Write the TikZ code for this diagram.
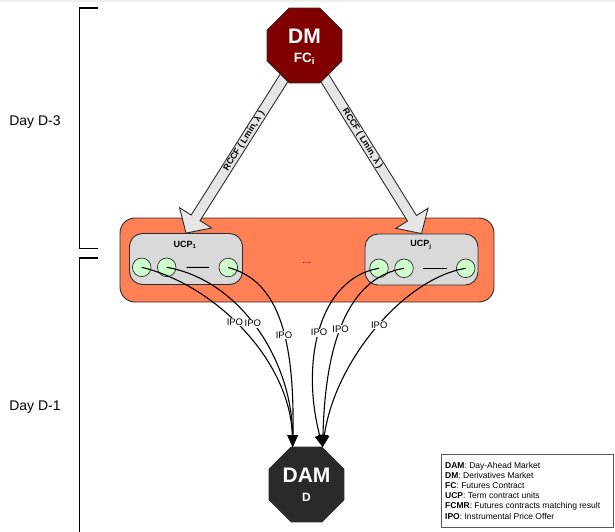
\documentclass[tikz,border=0pt]{standalone}
\usepackage{fontspec}
\setmainfont{Liberation Sans}
\usetikzlibrary{shapes.geometric,calc,arrows.meta}
\definecolor{orangebox}{RGB}{255,128,85}
\definecolor{ucpfill}{RGB}{217,217,217}
\definecolor{dotfill}{RGB}{204,255,204}
\definecolor{dmfill}{RGB}{128,0,0}
\definecolor{damfill}{RGB}{42,42,42}
\definecolor{arrfill}{RGB}{230,230,230}
\definecolor{edgegray}{RGB}{45,45,45}
\definecolor{topstrip}{RGB}{238,238,238}
\newcommand{\myfs}[2]{\fontsize{#1}{#2}\selectfont}
\newcommand{\blockarr}[2]{%
  \coordinate (ab) at ($(#2)!18pt!(#1)$);
  \filldraw[blockarrow] ($(#1)!5.25pt!90:(#2)$) -- ($(ab)!5.25pt!90:(#2)$)
    -- ($(ab)!19pt!90:(#2)$) -- (#2) -- ($(ab)!19pt!-90:(#2)$)
    -- ($(ab)!5.25pt!-90:(#2)$) -- ($(#1)!5.25pt!-90:(#2)$) -- cycle;}
\begin{document}
\begin{tikzpicture}[x=1pt,y=-1pt,
  octa/.style={regular polygon, regular polygon sides=8, minimum size=81pt,
    inner sep=0pt, outer sep=0pt, draw=edgegray, line width=0.8pt},
  octbig/.style={text=white, font=\bfseries\myfs{21}{21}, inner sep=0pt},
  octsmall/.style={text=white, font=\bfseries\myfs{13.5}{13.5}, inner sep=0pt},
  bracket/.style={line width=1.8pt, black},
  daylabel/.style={font=\myfs{14}{14}, inner sep=0pt},
  outerbox/.style={draw=edgegray, line width=0.9pt, fill=orangebox,
    rounded corners=15pt, minimum width=374pt, minimum height=84pt, inner sep=0pt},
  ucpbox/.style={draw=edgegray, line width=0.9pt, fill=ucpfill,
    rounded corners=13pt, minimum width=113pt, minimum height=51pt, inner sep=0pt},
  ucptext/.style={font=\bfseries\myfs{9}{9}, inner sep=0pt},
  dot/.style={circle, draw=edgegray, line width=0.7pt, fill=dotfill,
    minimum size=18.6pt, inner sep=0pt},
  dash line/.style={line width=0.9pt, black},
  blockarrow/.style={draw=edgegray, line width=0.9pt, fill=arrfill, line join=miter},
  arrtext/.style={font=\bfseries\myfs{8.8}{8.8}, inner sep=0pt},
  ipo/.style={line width=1.1pt, black, -{Triangle[length=12pt,width=10pt]}},
  ipolabel/.style={font=\myfs{9.5}{9.5}, fill=white, inner sep=0.6pt},
  legendbox/.style={draw=edgegray!80, line width=1pt, minimum width=172pt,
    minimum height=73pt, inner sep=0pt},
  legendtext/.style={font=\myfs{8.5}{10.2}, align=left, inner sep=0pt}]
\useasboundingbox (0,0) rectangle (615,531);
\fill[topstrip] (0,0) rectangle (615,2.4);

% brackets
\coordinate (b1a) at (98,8.3);
\coordinate (b1b) at (79.5,8.3);
\coordinate (b1c) at (79.5,248.5);
\coordinate (b1d) at (98,248.5);
\draw[bracket] (b1a) -- (b1b) -- (b1c) -- (b1d);
\coordinate (b2a) at (98,258.3);
\coordinate (b2b) at (79.5,258.3);
\coordinate (b2c) at (79.5,536);
\draw[bracket] (b2a) -- (b2b) -- (b2c);
\node[daylabel] (d3) at (35,122.3) {Day D-3};
\node[daylabel] (d1) at (35,407.3) {Day D-1};

% FCMR box with UCPs
\node[outerbox] (outer) at (307,260) {};
\node[ucpbox] (ucp1) at (186,259) {};
\node[ucpbox] (ucpj) at (421.5,259.5) {};
\node[ucptext] (ucp1t) at (185,245) {UCP\textsubscript{1}};
\node[ucptext] (ucpjt) at (421,245) {UCP\textsubscript{j}};
\node[font=\myfs{8}{8}, inner sep=0pt, anchor=base] (dots) at (307,263) {....};

\node[dot] (c11) at (141.7,267.3) {};
\node[dot] (c12) at (166.7,267.3) {};
\node[dot] (c13) at (228.3,267.5) {};
\draw[dash line] ($(c12)!0.325!(c13)$) -- ($(c12)!0.69!(c13)$);
\node[dot] (cj1) at (379,268.3) {};
\node[dot] (cj2) at (404,268.3) {};
\node[dot] (cj3) at (465.7,268.3) {};
\draw[dash line] ($(cj2)!0.31!(cj3)$) -- ($(cj2)!0.69!(cj3)$);

% block arrows from DM
\coordinate (dmc) at (304.5,45.5);
\blockarr{dmc}{ucp1.north}
\blockarr{dmc}{ucpj.north}
\path (ucp1.north) -- (dmc) node[pos=0.49, sloped, arrtext] (rl) {RCCF ( Lmin, λ )};
\path (dmc) -- (ucpj.north) node[pos=0.495, sloped, arrtext] (rr) {RCCF ( Lmin, λ )};

\node[octa, fill=dmfill] (dm) at (dmc) {};
\node[octbig] (dmt) at ($(dm.center)+(0,-8.8)$) {DM};
\node[octsmall] (fct) at ($(dm.center)+(0,13)$) {FC\textsubscript{i}};

\node[octa, fill=damfill] (dam) at (306.5,484.5) {};
\node[octbig] (damt) at ($(dam.center)+(0,-9.5)$) {DAM};
\node[octsmall, font=\bfseries\myfs{12}{12}] (dt) at ($(dam.center)+(0,12.8)$) {D};

% IPO connectors
\coordinate (damL) at ($(dam.north)+(-13.8,0)$);
\coordinate (damR) at ($(dam.north)+(16.2,0)$);
\draw[ipo] (c11.center) .. controls (215,285) and (290,360) .. (damL)
  node[pos=0.45, ipolabel] {IPO};
\draw[ipo] (c12.center) .. controls (240,280) and (292,360) .. (damL)
  node[pos=0.47, ipolabel] {IPO};
\draw[ipo] (c13.center) .. controls (275,280) and (295,330) .. (damL)
  node[pos=0.59, ipolabel] {IPO};
\draw[ipo] (cj1.center) .. controls (320,278) and (300,360) .. (damR)
  node[pos=0.52, ipolabel] {IPO};
\draw[ipo] (cj2.center) .. controls (345,278) and (325,350) .. (damR)
  node[pos=0.52, ipolabel] {IPO};
\draw[ipo] (cj3.center) .. controls (405,278) and (335,360) .. (damR)
  node[pos=0.48, ipolabel] {IPO};

% legend
\node[legendbox] (leg) at (527.2,490.5) {};
\node[legendtext, anchor=west] (legt) at (445,490.5) {%
\textbf{DAM}: Day-Ahead Market\\
\textbf{DM}: Derivatives Market\\
\textbf{FC}: Futures Contract\\
\textbf{UCP}: Term contract units\\
\textbf{FCMR}: Futures contracts matching result\\
\textbf{IPO}: Instrumental Price Offer};
\end{tikzpicture}
\end{document}
